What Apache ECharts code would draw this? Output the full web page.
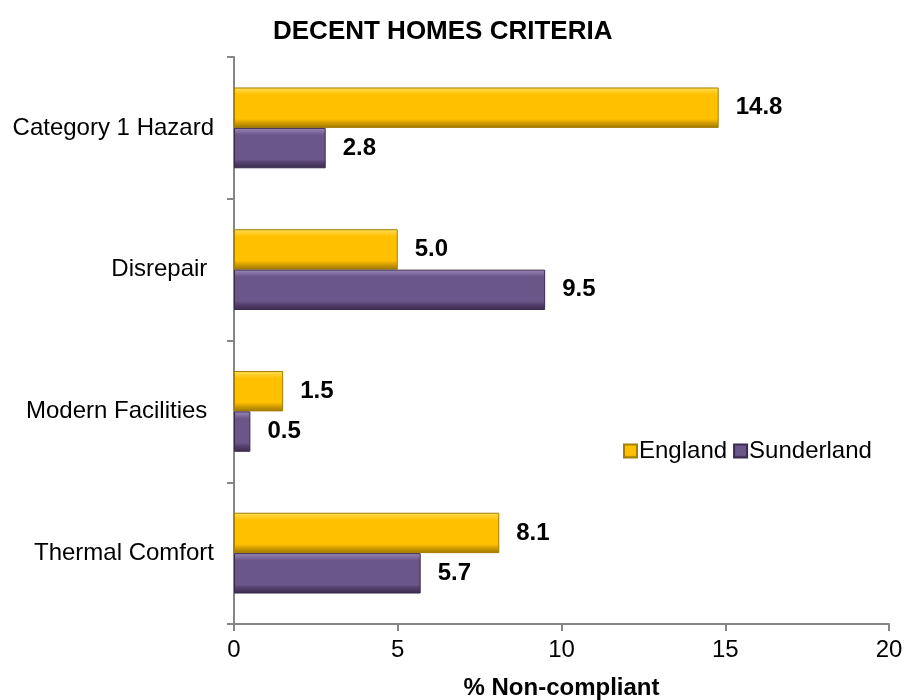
<!DOCTYPE html>
<html>
<head>
<meta charset="utf-8">
<script src="https://cdn.jsdelivr.net/npm/echarts@6/dist/echarts.min.js"></script>
<style>
  html, body { margin: 0; padding: 0; background: #fff; }
  #main { width: 908px; height: 700px; }
</style>
</head>
<body>
<div id="main"></div>
<script>
var categories = ['Category 1 Hazard', 'Disrepair ', 'Modern Facilities ', 'Thermal Comfort']
var england = [14.8, 5.0, 1.5, 8.1]
var sunderland = [2.8, 9.5, 0.5, 5.7]
var xTicks = [0, 5, 10, 15, 20]

function bevel (light, mid, dark, edge) {
  return new echarts.graphic.LinearGradient(0, 0, 0, 1, [
    { offset: 0, color: light },
    { offset: 0.18, color: mid },
    { offset: 0.78, color: mid },
    { offset: 0.86, color: dark },
    { offset: 1, color: edge }
  ])
}

var chart = echarts.init(document.getElementById('main'))
var labelStyle = {
  show: true,
  position: 'right',
  distance: 17,
  color: '#000',
  fontWeight: 'bold',
  fontSize: 24,
  fontFamily: 'Liberation Sans, Arial, sans-serif',
  formatter: function (p) { return p.value.toFixed(1) }
}

var option = {
  textStyle: { fontFamily: 'Liberation Sans, Arial, sans-serif' },
  title: {
    text: 'DECENT HOMES CRITERIA',
    left: 268,
    top: 14,
    textStyle: { fontSize: 26, fontWeight: 'bold', color: '#000' }
  },
  legend: {
    left: 618,
    top: 434,
    itemWidth: 13,
    itemHeight: 13,
    itemGap: 6,
    icon: 'rect',
    textStyle: { fontSize: 24, color: '#000', padding: [0, 0, 0, -3] },
    data: ['England', 'Sunderland']
  },
  grid: { left: 234, right: 19, top: 57, bottom: 76, containLabel: false, outerBoundsMode: 'none' },
  xAxis: {
    type: 'value',
    min: xTicks[0],
    max: xTicks[xTicks.length - 1],
    interval: 5,
    name: '% Non-compliant',
    nameLocation: 'middle',
    nameGap: 52,
    nameTextStyle: { fontSize: 24, fontWeight: 'bold', color: '#000' },
    axisLine: { show: true, lineStyle: { color: '#868686', width: 2 } },
    axisTick: { show: true, length: 7, lineStyle: { color: '#868686', width: 2 } },
    axisLabel: { fontSize: 24, color: '#000', margin: 14 },
    splitLine: { show: false }
  },
  yAxis: {
    type: 'category',
    inverse: true,
    data: categories,
    axisLine: { show: true, lineStyle: { color: '#868686', width: 2 } },
    axisTick: { show: true, length: 7, lineStyle: { color: '#868686', width: 2 } },
    axisLabel: { fontSize: 24, color: '#000', margin: 20 }
  },
  series: [
    {
      name: 'England',
      type: 'bar',
      barGap: '0%',
      barCategoryGap: '43%',
      data: england,
      itemStyle: {
        color: bevel('#FFDF5A', '#FFC000', '#D9A200', '#9C7600'),
        borderColor: '#A67E00',
        borderWidth: 1
      },
      label: labelStyle
    },
    {
      name: 'Sunderland',
      type: 'bar',
      data: sunderland,
      itemStyle: {
        color: bevel('#9C89B8', '#6A5689', '#54416F', '#3A2B4E'),
        borderColor: '#3A2B4E',
        borderWidth: 1
      },
      label: labelStyle
    }
  ]
}

chart.setOption(option)
</script>
</body>
</html>
